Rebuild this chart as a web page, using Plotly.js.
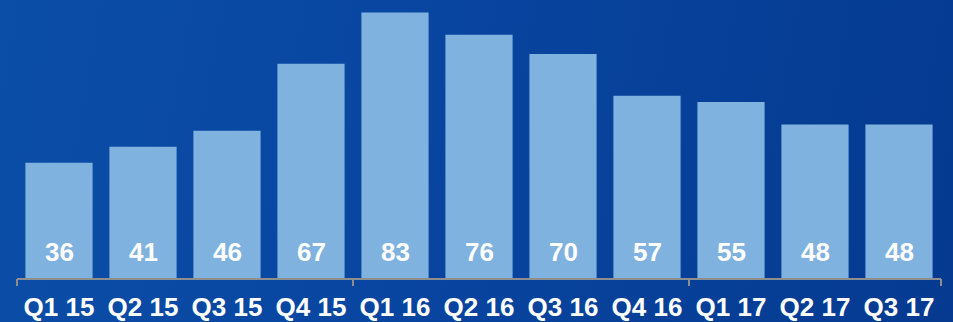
<!DOCTYPE html>
<html><head><meta charset="utf-8">
<script src="https://cdn.plot.ly/plotly-3.0.1.min.js"></script>
<style>
html,body{margin:0;padding:0;}
#chart{width:953px;height:322px;background:linear-gradient(100deg,#0B4EA7 0%,#0845A0 45%,#053A90 100%);}
</style></head>
<body><div id="chart"></div>
<script>
const categories = ["Q1 15","Q2 15","Q3 15","Q4 15","Q1 16","Q2 16","Q3 16","Q4 16","Q1 17","Q2 17","Q3 17"];
const values = [36,41,46,67,83,76,70,57,55,48,48];
const groupBoundaries = [-0.5,3.5,7.5,10.5];

const font = "'Liberation Sans', Arial, sans-serif";
const data = [
  {type:'bar', x:categories, y:values,
   marker:{color:'#7FB2DE', line:{width:0}}, width:0.8,
   hoverinfo:'skip'},
  {type:'scatter', x:groupBoundaries, y:groupBoundaries.map(()=>0), xaxis:'x2',
   mode:'none', showlegend:false, hoverinfo:'skip'}
];
const annotations = categories.map((c,i)=>({
  x:c, y:0, xref:'x', yref:'y', text:String(values[i]), showarrow:false,
  yanchor:'bottom', yshift:9,
  font:{family:font, size:26, color:'#ffffff', weight:'bold'}
}));
const layout = {
  width:953, height:322,
  margin:{l:17, r:12, t:0, b:44},
  paper_bgcolor:'rgba(0,0,0,0)', plot_bgcolor:'rgba(0,0,0,0)',
  showlegend:false,
  annotations:annotations,
  xaxis:{type:'category', range:[-0.5,10.5], showgrid:false, zeroline:false,
    showline:true, linecolor:'#8E8E8E', linewidth:2, ticks:'',
    tickfont:{family:font, size:26, color:'#ffffff', weight:'bold'},
    ticklabelstandoff:5},
  xaxis2:{overlaying:'x', range:[-0.5,10.5], tickvals:groupBoundaries,
    showticklabels:false, ticks:'outside', ticklen:7, tickwidth:2, tickcolor:'#8E8E8E',
    showgrid:false, zeroline:false, showline:false, anchor:'y'},
  yaxis:{range:[0,86.9], visible:false, showgrid:false, zeroline:false}
};
Plotly.newPlot('chart', data, layout, {displayModeBar:false, staticPlot:true});
</script></body></html>
